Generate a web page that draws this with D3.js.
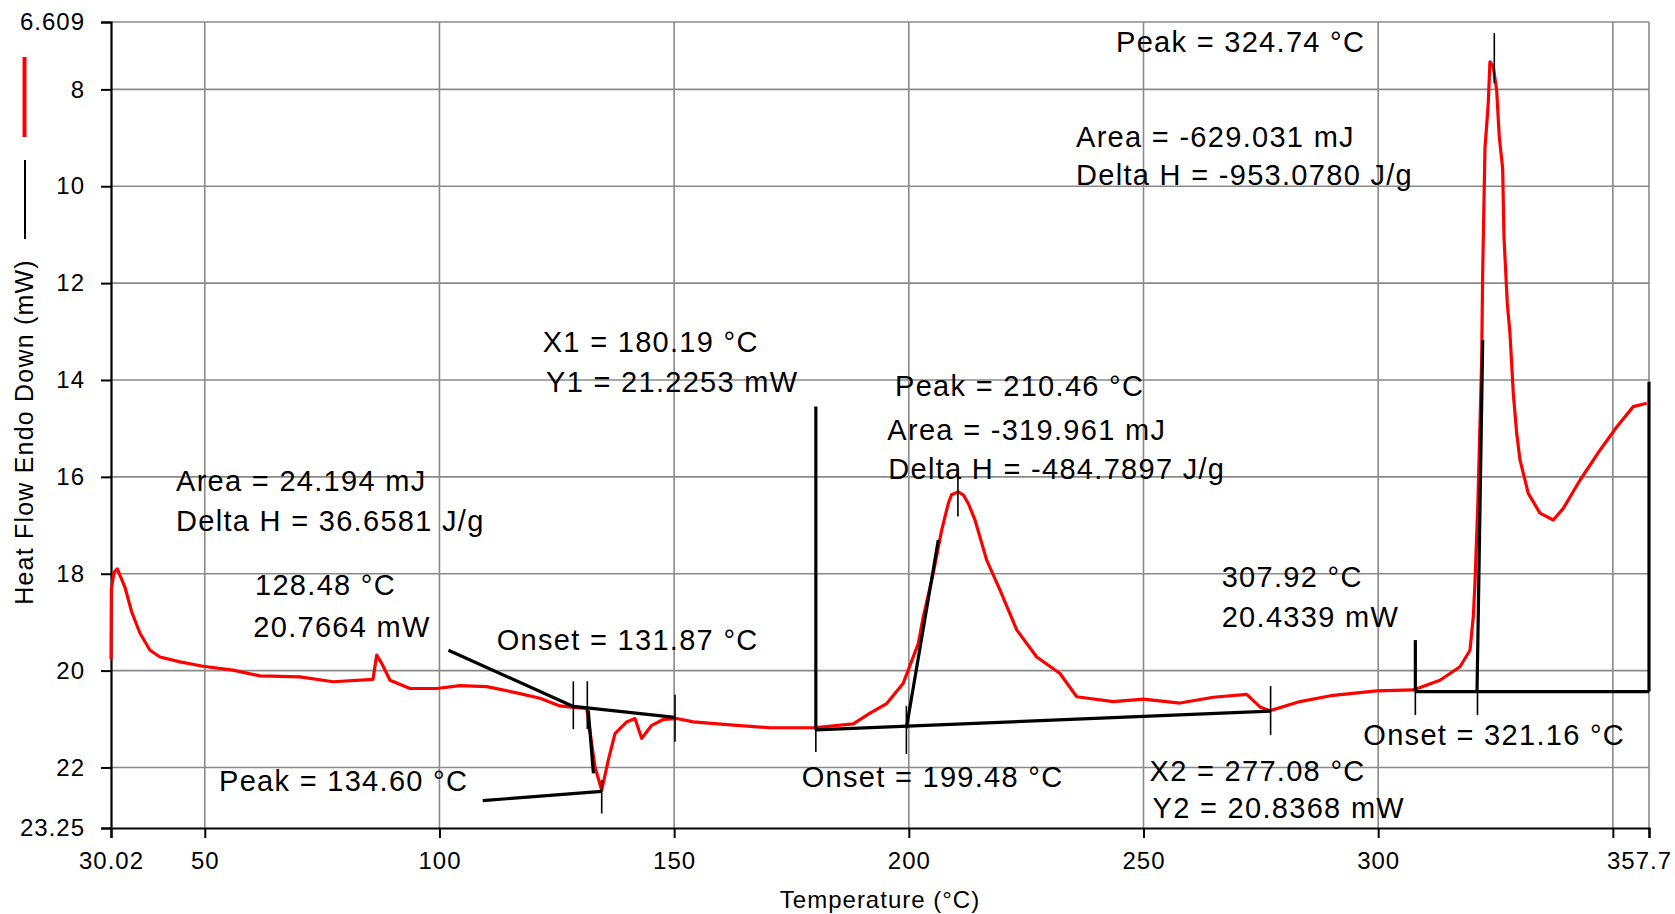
<!DOCTYPE html>
<html>
<head>
<meta charset="utf-8">
<script src="https://cdn.jsdelivr.net/npm/d3@7"></script>
<style>
  body { margin: 0; background: #fff; }
  text { font-family: "Liberation Sans", Arial, sans-serif; fill: #000; }
</style>
</head>
<body>
<svg id="chart" width="1675" height="914"></svg>
<script>
// DSC trace: temperature (°C) vs heat flow (mW, endo down)
const tempC = [30.02, 30.10, 30.66, 31.36, 33.00, 34.43, 36.20, 38.33, 40.46, 44.72, 49.62, 56.01, 61.77, 70.29, 77.32, 85.84, 86.63, 87.69, 89.46, 93.72,
  99.41, 104.38, 110.07, 116.46, 121.42, 125.68, 128.52, 131.37, 133.14, 134.57, 135.97, 137.40, 139.89, 141.66, 143.09, 145.22, 147.69, 150.55, 154.09, 163.33,
  170.42, 179.65, 188.17, 191.73, 195.29, 198.82, 202.02, 203.08, 205.21, 207.00, 208.41, 209.10, 210.54, 211.60, 212.67, 214.10, 216.59, 219.43, 222.99, 227.25, 232.21, 235.77,
  243.57, 249.96, 257.78, 264.87, 271.99, 274.82, 276.95, 283.34, 290.44, 299.68, 307.48, 313.17, 317.43, 319.56, 320.26, 320.62, 321.26, 322.05, 322.26, 322.75,
  323.45, 323.81, 324.52, 325.24, 325.80, 326.52, 326.80, 327.51, 328.08, 328.79, 329.51, 330.21, 331.98, 334.47, 337.31, 339.44, 342.99, 347.25, 350.81, 354.34, 357.21];
const heatFlow = [19.76, 18.32, 17.97, 17.90, 18.28, 18.79, 19.23, 19.58, 19.72, 19.82, 19.91, 19.99, 20.11, 20.13, 20.23, 20.18, 19.68, 19.85, 20.20, 20.37,
  20.37, 20.31, 20.33, 20.46, 20.57, 20.73, 20.76, 20.78, 21.99, 22.47, 21.85, 21.30, 21.06, 20.99, 21.40, 21.13, 21.01, 20.99, 21.06, 21.13,
  21.18, 21.18, 21.10, 20.88, 20.68, 20.26, 19.44, 18.89, 17.99, 17.10, 16.55, 16.37, 16.31, 16.37, 16.55, 16.89, 17.72, 18.34, 19.16, 19.72, 20.06, 20.54,
  20.64, 20.59, 20.67, 20.55, 20.49, 20.75, 20.83, 20.64, 20.51, 20.42, 20.40, 20.20, 19.92, 19.58, 18.89, 18.20, 16.48, 13.59, 11.80, 9.22,
  8.29, 7.43, 7.53, 8.01, 8.98, 9.63, 11.04, 12.42, 13.04, 14.28, 15.10, 15.65, 16.34, 16.75, 16.89, 16.65, 16.07, 15.45, 14.97, 14.55, 14.48];

const xTicks = [30.02, 50, 100, 150, 200, 250, 300, 350, 357.7];
const xTickLabels = ["30.02", "50", "100", "150", "200", "250", "300", "", "357.7"];
const yTicks = [6.609, 8, 10, 12, 14, 16, 18, 20, 22, 23.25];
const yTickLabels = ["6.609", "8", "10", "12", "14", "16", "18", "20", "22", "23.25"];

// analysis construction lines (thick) and markers (thin), [temp, mW] pairs
const baseSegs = [
  [[101.92, 19.58], [128.52, 20.74]],
  [[128.52, 20.74], [150.19, 20.966]],
  [[131.70, 20.82], [132.80, 22.12]],
  [[109.21, 22.685], [134.57, 22.493]],
  [[180.19, 14.55], [180.19, 21.2253]],
  [[180.19, 21.2253], [277.08, 20.8368]],
  [[199.48, 21.19], [206.28, 17.305]],
  [[307.92, 19.37], [307.92, 20.4339]],
  [[307.92, 20.4339], [357.7, 20.4339]],
  [[321.06, 20.4339], [322.27, 13.175]],
  [[357.7, 14.036], [357.7, 20.4339]]
];
const tickSegs = [
  [[128.52, 20.22], [128.52, 21.21]],
  [[131.50, 20.22], [131.50, 21.21]],
  [[150.19, 20.50], [150.19, 21.47]],
  [[134.57, 22.26], [134.57, 22.95]],
  [[180.19, 21.2253], [180.19, 21.68]],
  [[199.48, 20.73], [199.48, 21.72]],
  [[210.46, 15.83], [210.46, 16.82]],
  [[277.08, 20.32], [277.08, 21.33]],
  [[307.92, 20.4339], [307.92, 20.92]],
  [[321.16, 20.4339], [321.16, 20.92]],
  [[324.74, 6.84], [324.74, 7.875]]
];

// annotation labels: anchor temp, anchor mW (baseline), text
const annoTemp = [244.14, 235.62, 235.62, 122.0, 122.7, 197.06, 195.42, 195.63, 43.87, 43.87, 60.70, 60.34, 112.2, 53.03, 177.17, 266.66, 266.66, 296.83, 251.28, 251.94];
const annoFlow = [7.22, 9.18, 9.98, 13.43, 14.25, 14.33, 15.24, 16.05, 16.29, 17.12, 18.44, 19.30, 19.58, 22.49, 22.40, 18.27, 19.10, 21.53, 22.28, 23.04];
const annoText = ["Peak = 324.74 °C", "Area = -629.031 mJ", "Delta H = -953.0780 J/g", "X1 = 180.19 °C", "Y1 = 21.2253 mW",
  "Peak = 210.46 °C", "Area = -319.961 mJ", "Delta H = -484.7897 J/g", "Area = 24.194 mJ", "Delta H = 36.6581 J/g",
  "128.48 °C", "20.7664 mW", "Onset = 131.87 °C", "Peak = 134.60 °C", "Onset = 199.48 °C",
  "307.92 °C", "20.4339 mW", "Onset = 321.16 °C", "X2 = 277.08 °C", "Y2 = 20.8368 mW"];

const svg = d3.select("#chart");
const margin = {top: 22, right: 26, bottom: 86, left: 111};
const W = 1675, H = 914;
const x = d3.scaleLinear().domain([30.02, 357.7]).range([margin.left, W - margin.right]);
const y = d3.scaleLinear().domain([6.609, 23.25]).range([margin.top, H - margin.bottom]);

svg.append("rect").attr("width", W).attr("height", H).attr("fill", "#fff");

// grid
const grid = svg.append("g").attr("stroke", "#8a8a8a").attr("stroke-width", 1.6);
grid.selectAll(".gx").data(xTicks.slice(1)).enter().append("line")
  .attr("x1", d => x(d)).attr("x2", d => x(d)).attr("y1", y(6.609)).attr("y2", y(23.25));
grid.selectAll(".gy").data(yTicks.slice(0, -1)).enter().append("line")
  .attr("x1", x(30.02)).attr("x2", x(357.7)).attr("y1", d => y(d)).attr("y2", d => y(d));

// axes
const xAxis = d3.axisBottom(x).tickValues(xTicks).tickFormat((d, i) => xTickLabels[i]).tickSize(10).tickPadding(14);
const yAxis = d3.axisLeft(y).tickValues(yTicks).tickFormat((d, i) => yTickLabels[i]).tickSize(10).tickPadding(16);

const gx = svg.append("g").attr("transform", `translate(0,${y(23.25)})`).call(xAxis);
const gy = svg.append("g").attr("transform", `translate(${x(30.02)},0)`).call(yAxis);
[gx, gy].forEach(g => {
  g.select(".domain").attr("stroke", "#000").attr("stroke-width", 2.2);
  g.selectAll(".tick line").attr("stroke", "#000").attr("stroke-width", 2);
  g.selectAll(".tick text").attr("font-size", 24).attr("letter-spacing", 1)
    .attr("font-family", "Liberation Sans, Arial, sans-serif").attr("fill", "#000");
});
// last label sits at the very edge; nudge it inside the page
gx.selectAll(".tick text").filter(d => d === 357.7).attr("dx", -10);

// curve
const line = d3.line().x((d, i) => x(tempC[i])).y(d => y(d));
svg.append("path").datum(heatFlow).attr("d", line)
  .attr("fill", "none").attr("stroke", "#ff0000").attr("stroke-width", 3.2).attr("stroke-linejoin", "round");

// analysis lines
const segLine = d3.line().x(d => x(d[0])).y(d => y(d[1]));
svg.append("g").selectAll("path").data(baseSegs).enter().append("path")
  .attr("d", segLine).attr("stroke", "#000").attr("stroke-width", 3.2).attr("fill", "none");
svg.append("g").selectAll("path").data(tickSegs).enter().append("path")
  .attr("d", segLine).attr("stroke", "#000").attr("stroke-width", 1.6).attr("fill", "none");

// annotations
svg.append("g").selectAll("text").data(annoText).enter().append("text")
  .attr("x", (d, i) => x(annoTemp[i])).attr("y", (d, i) => y(annoFlow[i]))
  .attr("font-size", 29).attr("letter-spacing", 1.3)
  .text(d => d);

// axis titles
svg.append("text").attr("x", (x(30.02) + x(357.7)) / 2).attr("y", 908)
  .attr("text-anchor", "middle").attr("font-size", 24).attr("letter-spacing", 1)
  .text("Temperature (°C)");
svg.append("text").attr("transform", "translate(33,432) rotate(-90)")
  .attr("text-anchor", "middle").attr("font-size", 25).attr("letter-spacing", 1.2)
  .text("Heat Flow Endo Down (mW)");

// legend swatches
svg.append("line").attr("x1", 24.5).attr("x2", 24.5).attr("y1", 57).attr("y2", 137)
  .attr("stroke", "#ff0000").attr("stroke-width", 4);
svg.append("line").attr("x1", 25).attr("x2", 25).attr("y1", 160).attr("y2", 239)
  .attr("stroke", "#000").attr("stroke-width", 2);
</script>
</body>
</html>
